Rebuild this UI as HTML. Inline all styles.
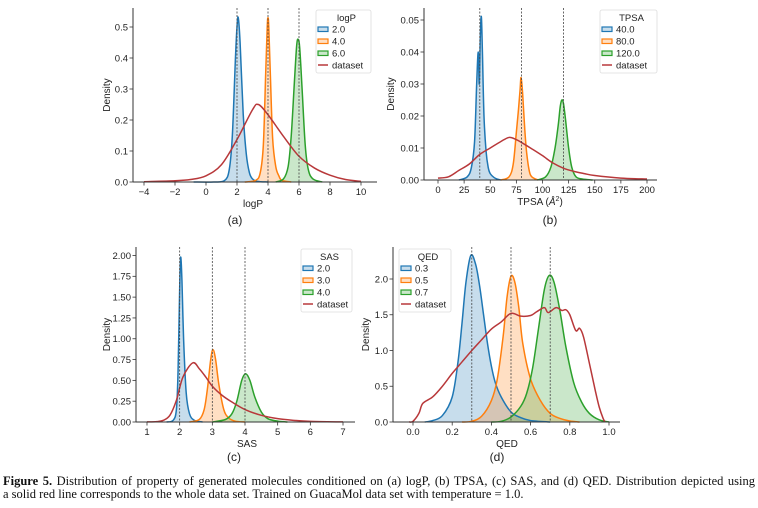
<!DOCTYPE html>
<html><head><meta charset="utf-8">
<style>
html,body{margin:0;padding:0;background:#fff;}
body{width:758px;height:508px;overflow:hidden;position:relative;}
svg text{font-family:"Liberation Sans","DejaVu Sans",sans-serif;}
.cap{position:absolute;left:3px;width:752px;font-family:"Liberation Serif",serif;font-size:12.5px;line-height:11px;color:#111;white-space:nowrap;}
</style></head>
<body>
<svg id="fig" width="758" height="472" style="position:absolute;left:0;top:0"></svg>
<div class="cap" style="top:476px;text-align:justify;text-align-last:justify;white-space:normal"><b>Figure 5.</b> Distribution of property of generated molecules conditioned on (a) logP, (b) TPSA, (c) SAS, and (d) QED. Distribution depicted using</div>
<div class="cap" style="top:489px">a solid red line corresponds to the whole data set. Trained on GuacaMol data set with temperature = 1.0.</div>
<script>
// ---- Panel (a) logP ----
const aBlueX=[-0.8,0.5,1.2,1.5,1.7,1.9,2.0,2.08,2.2,2.4,2.6,2.8,3.0,3.3,4];
const aBlueY=[0,0,0.005,0.04,0.15,0.4,0.5,0.53,0.45,0.22,0.09,0.03,0.01,0.002,0];
const aOrangeX=[2.5,3.2,3.5,3.7,3.85,3.95,4.0,4.05,4.15,4.3,4.5,4.7,4.9,5.5];
const aOrangeY=[0,0.005,0.03,0.12,0.35,0.5,0.53,0.5,0.35,0.14,0.05,0.02,0.005,0];
const aGreenX=[4.5,5.0,5.3,5.5,5.7,5.85,5.95,6.05,6.2,6.4,6.6,6.9,7.5];
const aGreenY=[0,0.01,0.05,0.15,0.32,0.44,0.46,0.43,0.3,0.12,0.04,0.01,0];
const aRedX=[-4,-2,-1,0,1,2,3,3.38,4,5,6,7,8,9,10];
const aRedY=[0.001,0.004,0.008,0.02,0.056,0.137,0.233,0.25,0.217,0.147,0.083,0.045,0.022,0.008,0.002];
const aTargets=[2,4,6];
const aLegend=["2.0","4.0","6.0","dataset"];
const aXTicks=[-4,-2,0,2,4,6,8,10];
const aYTicks=[0,0.1,0.2,0.3,0.4,0.5];
// ---- Panel (b) TPSA ----
const bBlueX=[20,28,32,35,37,38.5,39.5,40.5,41.5,42.5,44,46,48,50,55,60];
const bBlueY=[0,0.001,0.004,0.012,0.03,0.040,0.03,0.045,0.051,0.04,0.02,0.009,0.004,0.002,0.0005,0];
const bOrangeX=[60,68,72,75,77,78.5,79.5,81,83,85,88,92,96];
const bOrangeY=[0,0.001,0.005,0.015,0.022,0.028,0.032,0.027,0.016,0.008,0.002,0.0005,0];
const bGreenX=[95,103,108,112,115,117,118.5,120,122,125,128,132,138,148];
const bGreenY=[0,0.001,0.004,0.010,0.017,0.023,0.025,0.024,0.019,0.010,0.004,0.001,0.0003,0];
const bRedX=[0,10,20,30,40,50,60,68,75,80,90,100,110,120,130,140,150,175,200];
const bRedY=[0.0006,0.001,0.003,0.005,0.008,0.010,0.012,0.0133,0.0126,0.0117,0.0097,0.0076,0.0053,0.0037,0.0027,0.002,0.0014,0.0006,0.0003];
const bTargets=[40,80,120];
const bLegend=["40.0","80.0","120.0","dataset"];
const bXTicks=[0,25,50,75,100,125,150,175,200];
const bYTicks=[0,0.01,0.02,0.03,0.04,0.05];
// ---- Panel (c) SAS ----
const cBlueX=[1.6,1.8,1.9,1.95,2.0,2.03,2.07,2.12,2.2,2.3,2.45,2.7];
const cBlueY=[0,0.02,0.15,0.6,1.6,1.98,1.7,1.0,0.35,0.1,0.02,0];
const cOrangeX=[2.3,2.6,2.75,2.85,2.95,3.02,3.1,3.2,3.35,3.5,3.7,4.0];
const cOrangeY=[0,0.03,0.15,0.4,0.75,0.87,0.75,0.45,0.15,0.05,0.01,0];
const cGreenX=[3.0,3.4,3.6,3.75,3.9,4.02,4.15,4.3,4.5,4.7,5.0,5.3];
const cGreenY=[0,0.03,0.1,0.25,0.5,0.58,0.5,0.3,0.12,0.04,0.01,0];
const cRedX=[1,1.3,1.5,1.7,1.9,2.1,2.4,2.6,2.8,3.0,3.3,3.6,4.0,4.5,5,5.5,6,7];
const cRedY=[0.001,0.005,0.02,0.08,0.26,0.54,0.71,0.64,0.54,0.43,0.32,0.24,0.15,0.08,0.04,0.02,0.008,0.001];
const cTargets=[2,3,4];
const cLegend=["2.0","3.0","4.0","dataset"];
const cXTicks=[1,2,3,4,5,6,7];
const cYTicks=[0,0.25,0.5,0.75,1.0,1.25,1.5,1.75,2.0];
// ---- Panel (d) QED ----
const dBlueX=[0.06,0.1,0.15,0.2,0.23,0.25,0.27,0.295,0.32,0.34,0.36,0.38,0.4,0.42,0.45,0.5,0.55,0.6,0.7];
const dBlueY=[0,0.02,0.09,0.35,0.85,1.38,1.95,2.33,2.2,1.9,1.5,1.1,0.78,0.55,0.35,0.14,0.06,0.02,0];
const dOrangeX=[0.25,0.3,0.35,0.4,0.43,0.46,0.48,0.5,0.52,0.54,0.56,0.6,0.65,0.7,0.75,0.8,0.85];
const dOrangeY=[0,0.01,0.08,0.3,0.6,1.2,1.75,2.04,1.95,1.6,1.1,0.6,0.3,0.12,0.05,0.015,0];
const dGreenX=[0.4,0.45,0.5,0.55,0.58,0.61,0.64,0.67,0.695,0.72,0.75,0.78,0.82,0.86,0.9,0.95,1.0];
const dGreenY=[0,0.01,0.07,0.22,0.4,0.75,1.3,1.85,2.05,1.95,1.55,1.05,0.55,0.28,0.12,0.03,0];
const dRedX=[-0.02,0.0,0.03,0.05,0.1,0.15,0.2,0.25,0.3,0.35,0.4,0.45,0.5,0.55,0.6,0.63,0.67,0.69,0.73,0.76,0.78,0.8,0.83,0.85,0.87,0.9,0.93,0.95,0.97,0.98];
const dRedY=[0,0.01,0.12,0.26,0.35,0.5,0.68,0.84,1.0,1.15,1.3,1.4,1.52,1.48,1.49,1.54,1.6,1.53,1.6,1.56,1.57,1.5,1.28,1.31,1.19,0.82,0.44,0.21,0.05,0];
const dTargets=[0.3,0.5,0.7];
const dLegend=["0.3","0.5","0.7","dataset"];
const dXTicks=[0,0.2,0.4,0.6,0.8,1.0];
const dYTicks=[0,0.5,1.0,1.5,2.0];

const NS="http://www.w3.org/2000/svg";
const svg=document.getElementById('fig');
const COLORS=["#1f77b4","#ff7f0e","#2ca02c","#b8383a"];
function mk(tag,attrs,parent){const e=document.createElementNS(NS,tag);for(const k in attrs)e.setAttribute(k,attrs[k]);(parent||svg).appendChild(e);return e;}
function smooth(pts){let d="M"+pts[0][0].toFixed(2)+","+pts[0][1].toFixed(2);
 for(let i=0;i<pts.length-1;i++){const p0=pts[Math.max(0,i-1)],p1=pts[i],p2=pts[i+1],p3=pts[Math.min(pts.length-1,i+2)];
  const c1x=p1[0]+(p2[0]-p0[0])/6,c1y=p1[1]+(p2[1]-p0[1])/6,c2x=p2[0]-(p3[0]-p1[0])/6,c2y=p2[1]-(p3[1]-p1[1])/6;
  d+=" C"+c1x.toFixed(2)+","+c1y.toFixed(2)+" "+c2x.toFixed(2)+","+c2y.toFixed(2)+" "+p2[0].toFixed(2)+","+p2[1].toFixed(2);}
 return d;}
function fmt(v,dec){return (v<0?"\u2212":"")+Math.abs(v).toFixed(dec);}

function panel(cfg){
 const g=mk('g',{});
 
 
 const sx=v=>cfg.x0p+(v-cfg.x0)/(cfg.x1-cfg.x0)*(cfg.x1p-cfg.x0p);
 const sy=v=>cfg.y0p+(v-cfg.y0)/(cfg.y1-cfg.y0)*(cfg.y1p-cfg.y0p);
 const series=cfg.series;
 for(let s=0;s<3;s++){
  const pts=series[s][0].map((x,i)=>[sx(x),Math.min(sy(series[s][1][i]),cfg.bottom)]);
  let d=smooth(pts)+" L"+pts[pts.length-1][0]+","+cfg.bottom+" L"+pts[0][0]+","+cfg.bottom+" Z";
  const f=mk('path',{d:d,fill:COLORS[s],'fill-opacity':0.25,stroke:'none'},g);
  
  
 }
 for(let s=0;s<4;s++){
  const pts=series[s][0].map((x,i)=>[sx(x),Math.min(sy(series[s][1][i]),cfg.bottom)]);
  const l=mk('path',{d:smooth(pts),fill:'none',stroke:COLORS[s],'stroke-width':1.5,'stroke-linejoin':'round'},g);
  
  
 }
 cfg.targets.forEach(t=>{
  const v=mk('line',{x1:sx(t),x2:sx(t),y1:cfg.top,y2:cfg.bottom,stroke:'#444','stroke-width':0.8,'stroke-dasharray':'2,1.5'},g);
  
  
 });
 const sp1=mk('line',{x1:cfg.left,x2:cfg.left,y1:cfg.top,y2:cfg.bottom,stroke:'#333','stroke-width':1},g);
 
 
 const sp2=mk('line',{x1:cfg.left,x2:cfg.right,y1:cfg.bottom,y2:cfg.bottom,stroke:'#333','stroke-width':1},g);
 
 
 cfg.xticks.forEach(t=>{
  mk('line',{x1:sx(t),x2:sx(t),y1:cfg.bottom,y2:cfg.bottom+3.5,stroke:'#333','stroke-width':0.8},g);
  const tx=mk('text',{x:sx(t),y:cfg.bottom+13,'font-size':9.5,'text-anchor':'middle',fill:'#222'},g);
  tx.textContent=fmt(t,cfg.xdec);
  
  
 });
 cfg.yticks.forEach(t=>{
  mk('line',{x1:cfg.left-3.5,x2:cfg.left,y1:sy(t),y2:sy(t),stroke:'#333','stroke-width':0.8},g);
  const tx=mk('text',{x:cfg.left-5,y:sy(t)+3.4,'font-size':9.5,'text-anchor':'end',fill:'#222'},g);
  tx.textContent=fmt(t,cfg.ydec);
  
  
 });
 const xl=mk('text',{x:cfg.xlx,y:cfg.bottom+25,'font-size':10,'text-anchor':'middle',fill:'#222'},g);
 xl.innerHTML=cfg.xlabel;
 
 
 const yc=(cfg.top+cfg.bottom)/2;
 const yl=mk('text',{x:cfg.ylx,y:yc,'font-size':10,'text-anchor':'middle',fill:'#222',transform:'rotate(-90 '+cfg.ylx+' '+yc+')'},g);
 yl.textContent="Density";
 
 
 const sc=mk('text',{x:cfg.subx,y:cfg.suby,'font-size':12,'text-anchor':'middle',fill:'#222','font-family':'"Liberation Serif",serif'},g);
 sc.textContent=cfg.sub;
 
 
 const L=cfg.leg;
 const lg=mk('g',{},g);
 
 
 mk('rect',{x:L[0],y:L[1],width:L[2],height:63,rx:2,fill:'#fff','fill-opacity':0.85,stroke:'#ddd','stroke-width':0.8},lg);
 const tt=mk('text',{x:L[0]+L[2]/2+3,y:L[1]+11,'font-size':9.5,'text-anchor':'middle',fill:'#222'},lg);
 tt.textContent=cfg.title;
 
 
 cfg.legend.forEach((lab,i)=>{
  const yy=L[1]+19+i*12;
  if(i<3) mk('rect',{x:L[0]+2,y:yy-2,width:10,height:4.5,fill:COLORS[i],'fill-opacity':0.25,stroke:COLORS[i],'stroke-width':1.2},lg);
  else mk('line',{x1:L[0]+2,x2:L[0]+12,y1:yy,y2:yy,stroke:COLORS[3],'stroke-width':1.5},lg);
  const t=mk('text',{x:L[0]+16,y:yy+3.5,'font-size':9.5,fill:'#222'},lg);
  t.textContent=lab;
  
  
 });
}

panel({name:'chart-logp',x0:-4,x1:10,x0p:144,x1p:361,y0:0,y1:0.5,y0p:182,y1p:27,left:133,right:377,top:8,bottom:182,
 series:[[aBlueX,aBlueY],[aOrangeX,aOrangeY],[aGreenX,aGreenY],[aRedX,aRedY]],targets:aTargets,legend:aLegend,title:'logP',
 xticks:aXTicks,yticks:aYTicks,xdec:0,ydec:1,xlabel:'logP',xlx:253,ylx:110,sub:'(a)',subx:235,suby:224,leg:[316,10,55]});
panel({name:'chart-tpsa',x0:0,x1:200,x0p:438,x1p:647,y0:0,y1:0.05,y0p:180,y1p:20,left:424,right:657,top:8,bottom:180,
 series:[[bBlueX,bBlueY],[bOrangeX,bOrangeY],[bGreenX,bGreenY],[bRedX,bRedY]],targets:bTargets,legend:bLegend,title:'TPSA',
 xticks:bXTicks,yticks:bYTicks,xdec:0,ydec:2,xlabel:'TPSA (<tspan font-style="italic">Å</tspan><tspan font-size="7" dy="-4">2</tspan><tspan dy="4">)</tspan>',xlx:540,ylx:394,sub:'(b)',subx:550,suby:224,leg:[600,10,57]});
panel({name:'chart-sas',x0:1,x1:7,x0p:147,x1p:343,y0:0,y1:2,y0p:422,y1p:255.5,left:136,right:355,top:247,bottom:422,
 series:[[cBlueX,cBlueY],[cOrangeX,cOrangeY],[cGreenX,cGreenY],[cRedX,cRedY]],targets:cTargets,legend:cLegend,title:'SAS',
 xticks:cXTicks,yticks:cYTicks,xdec:0,ydec:2,xlabel:'SAS',xlx:247,ylx:110,sub:'(c)',subx:234,suby:461,leg:[301,249,51]});
panel({name:'chart-qed',x0:0,x1:1,x0p:413,x1p:609,y0:0,y1:2,y0p:422,y1p:279,left:393,right:620,top:247,bottom:422,
 series:[[dBlueX,dBlueY],[dOrangeX,dOrangeY],[dGreenX,dGreenY],[dRedX,dRedY]],targets:dTargets,legend:dLegend,title:'QED',
 xticks:dXTicks,yticks:dYTicks,xdec:1,ydec:1,xlabel:'QED',xlx:507,ylx:369,sub:'(d)',subx:497,suby:461,leg:[399,249,52]});
</script>
</body></html>
